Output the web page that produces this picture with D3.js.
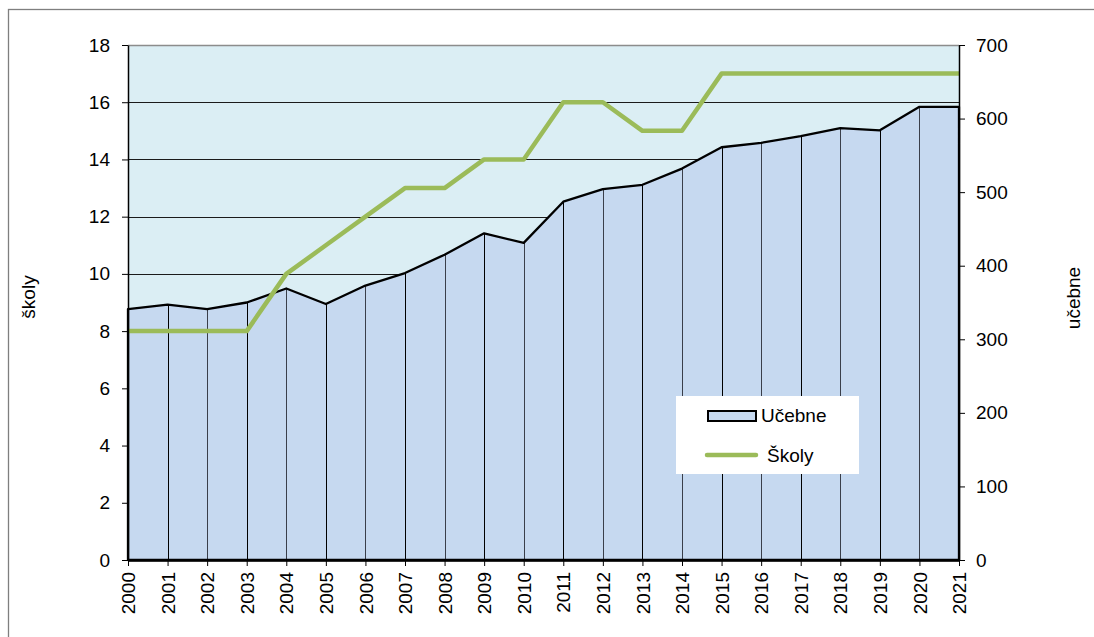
<!DOCTYPE html>
<html>
<head>
<meta charset="utf-8">
<script src="https://cdn.jsdelivr.net/npm/d3@7"></script>
<style>
  body { margin: 0; background: #fff; }
  svg text { font-family: "Liberation Sans", Arial, sans-serif; fill: #000; }
</style>
</head>
<body>
<svg id="chart" width="1094" height="637"></svg>
<script>
// data
var years = ["2000","2001","2002","2003","2004","2005","2006","2007","2008","2009","2010",
             "2011","2012","2013","2014","2015","2016","2017","2018","2019","2020","2021"];
var ucebne = [341, 347, 341, 350, 369, 348, 373, 390, 415, 444, 431,
              487, 504, 510, 532, 561, 567, 576, 587, 584, 616, 616];
var skoly = [8, 8, 8, 8, 10, 11, 12, 13, 13, 14, 14, 16, 16, 15, 15, 17, 17, 17, 17, 17, 17, 17];
var leftTicks = [0, 2, 4, 6, 8, 10, 12, 14, 16, 18];
var rightTicks = [0, 100, 200, 300, 400, 500, 600, 700];

// plot box (note: "top" is taken by window.top, so use plot_*)
var plot_left = 128, plot_right = 959, plot_top = 45, plot_bottom = 560;
var fontSize = 19;

var svg = d3.select("#chart");

// outer frame (runs off the right and bottom edge)
svg.append("rect")
    .attr("x", 8.5).attr("y", 9.5)
    .attr("width", 1200).attr("height", 800)
    .attr("fill", "#fff")
    .attr("stroke", "#7f7f7f")
    .attr("stroke-width", 1.3);

var x = d3.scaleLinear().domain([0, years.length - 1]).range([plot_left, plot_right]);
var yL = d3.scaleLinear().domain([0, 18]).range([plot_bottom, plot_top]);
var yR = d3.scaleLinear().domain([0, 700]).range([plot_bottom, plot_top]);

// plot background
svg.append("rect")
    .attr("x", plot_left).attr("y", plot_top)
    .attr("width", plot_right - plot_left).attr("height", plot_bottom - plot_top)
    .attr("fill", "#dbeef4");

// horizontal grid
svg.append("g")
    .selectAll("line")
    .data(leftTicks.filter(function(d) { return d > 0 && d < 18; }))
    .enter().append("line")
    .attr("x1", plot_left).attr("x2", plot_right)
    .attr("y1", function(d) { return Math.round(yL(d)) + 0.5; })
    .attr("y2", function(d) { return Math.round(yL(d)) + 0.5; })
    .attr("stroke", "#1a1a1a")
    .attr("stroke-width", 1);

// top border of plot
svg.append("line")
    .attr("x1", plot_left).attr("x2", plot_right)
    .attr("y1", plot_top + 0.5).attr("y2", plot_top + 0.5)
    .attr("stroke", "#8c8c8c").attr("stroke-width", 1.5);

// area for učebne
var area = d3.area()
    .x(function(d, i) { return x(i); })
    .y0(yR(0))
    .y1(function(d) { return yR(d); });

svg.append("path")
    .datum(ucebne)
    .attr("d", area)
    .attr("fill", "#c6d9f0");

// drop lines
svg.append("g")
    .selectAll("line")
    .data(ucebne)
    .enter().append("line")
    .attr("x1", function(d, i) { return Math.round(x(i)) + 0.5; })
    .attr("x2", function(d, i) { return Math.round(x(i)) + 0.5; })
    .attr("y1", yR(0))
    .attr("y2", function(d) { return yR(d); })
    .attr("stroke", function(d, i) { return i % 2 ? "#000" : "#3a3f4a"; })
    .attr("stroke-width", 1);

svg.append("path")
    .datum(ucebne)
    .attr("d", area)
    .attr("fill", "none")
    .attr("stroke", "#000")
    .attr("stroke-width", 2.3)
    .attr("stroke-linejoin", "round");

// line for školy
var line = d3.line()
    .x(function(d, i) { return x(i); })
    .y(function(d) { return yL(d); });

svg.append("path")
    .datum(skoly)
    .attr("d", line)
    .attr("fill", "none")
    .attr("stroke", "#9bbb59")
    .attr("stroke-width", 4.5)
    .attr("stroke-linejoin", "round");

// axes
var axisL = svg.append("g")
    .attr("transform", "translate(" + plot_left + ",0)")
    .call(d3.axisLeft(yL).tickValues(leftTicks).tickSize(6).tickPadding(12).tickSizeOuter(0));

var axisR = svg.append("g")
    .attr("transform", "translate(" + plot_right + ",0)")
    .call(d3.axisRight(yR).tickValues(rightTicks).tickSize(6).tickPadding(11).tickSizeOuter(0));

var axisB = svg.append("g")
    .attr("transform", "translate(0," + plot_bottom + ")")
    .call(d3.axisBottom(x).tickValues(d3.range(years.length))
        .tickFormat(function(i) { return years[i]; })
        .tickSize(6).tickSizeOuter(0));

axisB.selectAll("text")
    .attr("transform", "rotate(-90)")
    .attr("text-anchor", "end")
    .attr("x", -12)
    .attr("y", 0)
    .attr("dy", "0.35em");

[axisL, axisR, axisB].forEach(function(a) {
    a.selectAll("text").style("font-size", fontSize + "px").attr("fill", "#000");
    a.selectAll("line").attr("stroke", "#000");
    a.select(".domain").attr("stroke", "#000").attr("stroke-width", 1.5);
});
axisB.select(".domain").attr("stroke-width", 2.5);

// axis titles
svg.append("text")
    .attr("transform", "translate(35,297) rotate(-90)")
    .attr("text-anchor", "middle")
    .style("font-size", fontSize + "px")
    .text("školy");

svg.append("text")
    .attr("transform", "translate(1080,298) rotate(-90)")
    .attr("text-anchor", "middle")
    .style("font-size", fontSize + "px")
    .text("učebne");

// legend
var legend = svg.append("g");
legend.append("rect")
    .attr("x", 676).attr("y", 396)
    .attr("width", 183).attr("height", 78)
    .attr("fill", "#fff");

legend.append("rect")
    .attr("x", 708).attr("y", 411)
    .attr("width", 48).attr("height", 10)
    .attr("fill", "#c6d9f0")
    .attr("stroke", "#000")
    .attr("stroke-width", 2);

legend.append("text")
    .attr("x", 761).attr("y", 422)
    .style("font-size", fontSize + "px")
    .text("Učebne");

legend.append("line")
    .attr("x1", 707).attr("x2", 756)
    .attr("y1", 455).attr("y2", 455)
    .attr("stroke", "#9bbb59")
    .attr("stroke-width", 4.5)
    .attr("stroke-linecap", "round");

legend.append("text")
    .attr("x", 767).attr("y", 462)
    .style("font-size", fontSize + "px")
    .text("Školy");
</script>
</body>
</html>
